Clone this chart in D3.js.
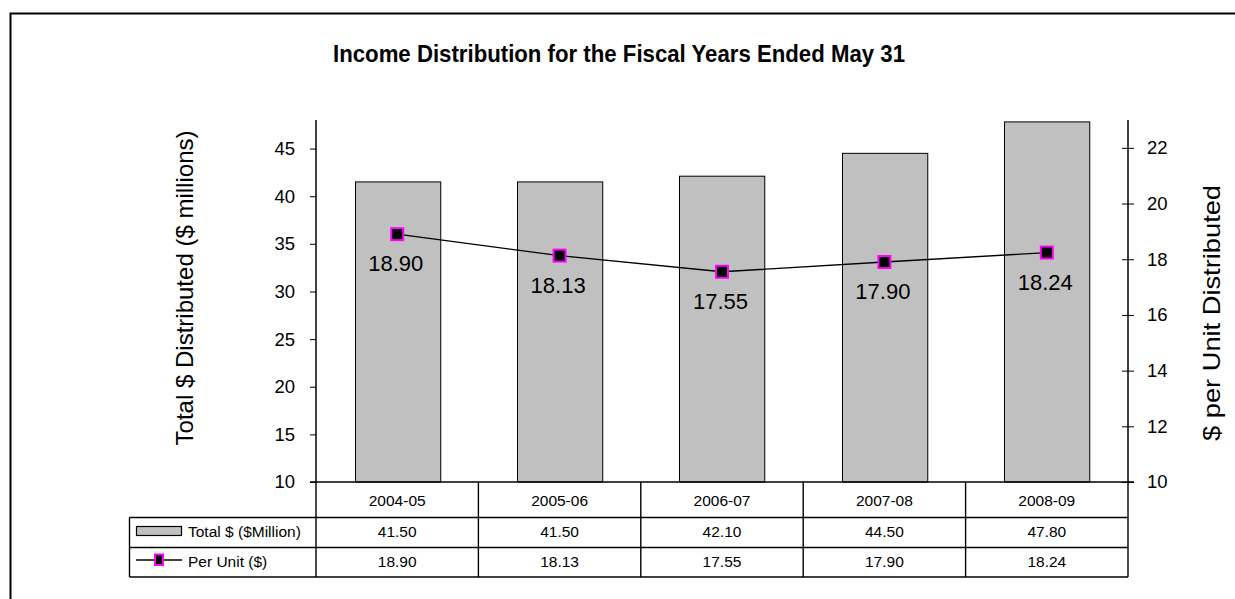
<!DOCTYPE html>
<html><head><meta charset="utf-8">
<script src="https://cdn.jsdelivr.net/npm/d3@7"></script>
<style>body{margin:0;background:#fff}svg{display:block}text{font-family:"Liberation Sans",Arial,sans-serif}</style>
</head><body>
<svg id="c" width="1235" height="599"></svg>
<script>
const categories = ["2004-05","2005-06","2006-07","2007-08","2008-09"];
const totalValues = [41.50,41.50,42.10,44.50,47.80];
const perUnitValues = [18.90,18.13,17.55,17.90,18.24];
const leftTicks = [10,15,20,25,30,35,40,45];
const rightTicks = [10,12,14,16,18,20,22];
const seriesNames = ["Total $ ($Million)","Per Unit ($)"];

const svg = d3.select("#c");
const L = 316, R = 1128, T = 120, B = 482;
const x = d3.scaleBand().domain(categories).range([L,R]).paddingInner(0).paddingOuter(0);
const yL = d3.scaleLinear().domain([10,48]).range([B,T]);
const yR = d3.scaleLinear().domain([10,23]).range([B,T]);

// outer border
svg.append("rect").attr("x",10.5).attr("y",13.5).attr("width",1240).attr("height",600)
  .attr("fill","none").attr("stroke","#000").attr("stroke-width",2);

svg.append("text").attr("x",619).attr("y",62).attr("text-anchor","middle")
  .attr("font-size",23).attr("font-weight","bold")
  .attr("textLength",572).attr("lengthAdjust","spacingAndGlyphs")
  .text("Income Distribution for the Fiscal Years Ended May 31");

// bars
const bw = x.bandwidth()*0.525;
svg.append("g").selectAll("rect").data(categories).join("rect")
  .attr("x",(d)=>Math.round(x(d)+x.bandwidth()/2-bw/2)+0.5)
  .attr("y",(d,i)=>yL(totalValues[i]))
  .attr("width",bw).attr("height",(d,i)=>B-yL(totalValues[i]))
  .attr("fill","#c0c0c0").attr("stroke","#000").attr("stroke-width",1);

// left axis
const gl = svg.append("g").attr("transform",`translate(${L},0)`)
  .call(d3.axisLeft(yL).tickValues(leftTicks).tickSize(6).tickPadding(15));
gl.select(".domain").attr("d",`M0,${T}V${B}`).attr("stroke-width",1.5);
gl.selectAll("text").attr("font-size",18.5).attr("font-family","Liberation Sans, Arial, sans-serif").attr("fill","#000");
gl.selectAll("line").attr("stroke","#000");

// right axis
const gr = svg.append("g").attr("transform",`translate(${R},0)`)
  .call(d3.axisRight(yR).tickValues(rightTicks).tickSize(6).tickPadding(13));
gr.select(".domain").attr("d",`M0,${T}V${B}`).attr("stroke-width",1.5);
gr.selectAll(".tick line").attr("x1",-6).attr("x2",6).attr("stroke","#000");
gr.selectAll("text").attr("font-size",18.5).attr("font-family","Liberation Sans, Arial, sans-serif").attr("fill","#000");

// x axis line
svg.append("line").attr("x1",L-6).attr("x2",R+6).attr("y1",B).attr("y2",B).attr("stroke","#000").attr("stroke-width",1.5);

// axis titles
svg.append("text").attr("transform",`translate(193,288) rotate(-90)`).attr("text-anchor","middle")
  .attr("font-size",24).attr("textLength",315).attr("lengthAdjust","spacingAndGlyphs")
  .text("Total $ Distributed  ($ millions)");
svg.append("text").attr("transform",`translate(1220,313) rotate(-90)`).attr("text-anchor","middle")
  .attr("font-size",24).attr("textLength",256).attr("lengthAdjust","spacingAndGlyphs")
  .text("$ per Unit Distributed");

// line
const cx = (d)=>x(d)+x.bandwidth()/2;
const line = d3.line().x((d,i)=>cx(categories[i])).y(d=>yR(d));
svg.append("path").datum(perUnitValues).attr("d",line).attr("fill","none").attr("stroke","#000").attr("stroke-width",1.3);
const ms = 12;
svg.append("g").selectAll("rect").data(perUnitValues).join("rect")
  .attr("x",(d,i)=>cx(categories[i])-ms/2).attr("y",d=>yR(d)-ms/2)
  .attr("width",ms).attr("height",ms).attr("fill","#000").attr("stroke","#ff00ff").attr("stroke-width",2);
svg.append("g").selectAll("text").data(perUnitValues).join("text")
  .attr("x",(d,i)=>cx(categories[i])-1.5).attr("y",d=>yR(d)+37)
  .attr("text-anchor","middle").attr("font-size",22).text(d=>d.toFixed(2));

// data table
const rows = [B, 517.5, 547.5, 577];
const LT = 129.5;
const tg = svg.append("g").attr("stroke","#000").attr("stroke-width",1.4);
tg.append("line").attr("x1",LT).attr("x2",R).attr("y1",rows[1]).attr("y2",rows[1]);
tg.append("line").attr("x1",LT).attr("x2",R).attr("y1",rows[2]).attr("y2",rows[2]);
tg.append("line").attr("x1",LT).attr("x2",R).attr("y1",rows[3]).attr("y2",rows[3]);
tg.append("line").attr("x1",LT).attr("x2",LT).attr("y1",rows[1]).attr("y2",rows[3]);
const vx = categories.map(c=>x(c)).concat([R]);
tg.selectAll(".v").data(vx).join("line").attr("x1",d=>d).attr("x2",d=>d).attr("y1",B).attr("y2",rows[3]);

const tf = 15.5;
svg.append("g").selectAll("text").data(categories).join("text")
  .attr("x",d=>cx(d)).attr("y",506).attr("text-anchor","middle").attr("font-size",tf).text(d=>d);
svg.append("g").selectAll("text").data(totalValues).join("text")
  .attr("x",(d,i)=>cx(categories[i])).attr("y",536.5).attr("text-anchor","middle").attr("font-size",tf).text(d=>d.toFixed(2));
svg.append("g").selectAll("text").data(perUnitValues).join("text")
  .attr("x",(d,i)=>cx(categories[i])).attr("y",566.5).attr("text-anchor","middle").attr("font-size",tf).text(d=>d.toFixed(2));

// legend keys
svg.append("rect").attr("x",136.5).attr("y",526.5).attr("width",45).attr("height",9)
  .attr("fill","#c0c0c0").attr("stroke","#000").attr("stroke-width",1.2);
svg.append("line").attr("x1",136).attr("x2",182).attr("y1",560).attr("y2",560).attr("stroke","#000").attr("stroke-width",1.3);
svg.append("rect").attr("x",155).attr("y",554.5).attr("width",8).attr("height",10.5)
  .attr("fill","#000").attr("stroke","#ff00ff").attr("stroke-width",2);
svg.append("text").attr("x",188).attr("y",536.5).attr("font-size",tf).text(seriesNames[0]);
svg.append("text").attr("x",188).attr("y",566.5).attr("font-size",tf).text(seriesNames[1]);
</script>
</body></html>
